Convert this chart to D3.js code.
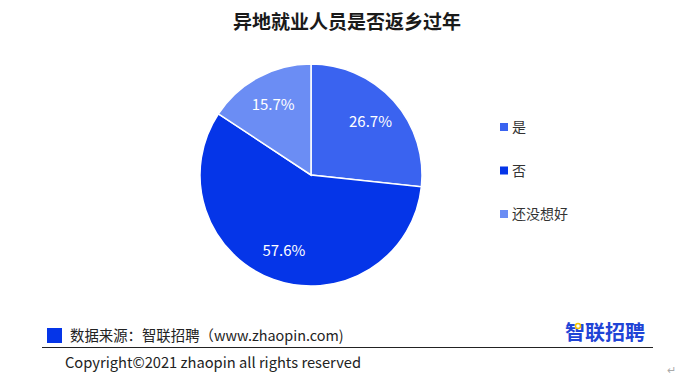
<!DOCTYPE html>
<html>
<head>
<meta charset="utf-8">
<script src="https://cdn.jsdelivr.net/npm/d3@7"></script>
<style>
  body { margin: 0; background: #fff; }
  svg { font-family: "Noto Sans CJK SC", "Noto Sans", sans-serif; }
</style>
</head>
<body>
<div id="chart"></div>
<script>
// chart data
var categories = ["是", "否", "还没想好"];
var shares = [26.7, 57.6, 15.7];
var colors = ["#3a63f0", "#0535e8", "#6b8df4"];

var width = 700, height = 384;

var svg = d3.select("#chart").append("svg")
  .attr("width", width)
  .attr("height", height);

// title
svg.append("text")
  .attr("x", 347)
  .attr("y", 29)
  .attr("text-anchor", "middle")
  .style("font-size", "19px")
  .style("font-weight", "bold")
  .style("fill", "#1a1a1a")
  .text("异地就业人员是否返乡过年");

// pie
var radius = 111;
var g = svg.append("g").attr("transform", "translate(311,175)");

var pie = d3.pie().sort(null).value(function(d) { return d; });
var arc = d3.arc().innerRadius(0).outerRadius(radius);
var labelArc = d3.arc().innerRadius(80).outerRadius(80);
var color = d3.scaleOrdinal().domain(categories).range(colors);

var slices = pie(shares);

g.selectAll("path")
  .data(slices)
  .enter().append("path")
  .attr("d", arc)
  .style("fill", function(d, i) { return color(categories[i]); })
  .style("stroke", "#fff")
  .style("stroke-width", 1.5);

g.selectAll("text")
  .data(slices)
  .enter().append("text")
  .attr("transform", function(d) { return "translate(" + labelArc.centroid(d) + ")"; })
  .attr("text-anchor", "middle")
  .attr("dy", "0.35em")
  .style("font-size", "15px")
  .style("fill", "#fff")
  .text(function(d) { return d.data.toFixed(1) + "%"; });

// legend
var legendY = d3.scalePoint().domain(categories).range([127, 214]);

var legend = svg.append("g").selectAll("g")
  .data(categories)
  .enter().append("g")
  .attr("transform", function(d) { return "translate(500," + legendY(d) + ")"; });

legend.append("rect")
  .attr("x", 0)
  .attr("y", -4)
  .attr("width", 8)
  .attr("height", 8)
  .style("fill", function(d) { return color(d); });

legend.append("text")
  .attr("x", 12)
  .attr("dy", "0.36em")
  .style("font-size", "14px")
  .style("fill", "#333")
  .text(function(d) { return d; });

// footer
svg.append("rect")
  .attr("x", 47).attr("y", 328)
  .attr("width", 15).attr("height", 15)
  .style("fill", "#0535e8");

svg.append("text")
  .attr("x", 70)
  .attr("y", 341)
  .style("font-size", "14.4px")
  .style("fill", "#222")
  .text("数据来源：智联招聘（www.zhaopin.com)");

svg.append("line")
  .attr("x1", 42).attr("x2", 653)
  .attr("y1", 347.5).attr("y2", 347.5)
  .style("stroke", "#222")
  .style("stroke-width", 1);

svg.append("text")
  .attr("x", 565)
  .attr("y", 340)
  .style("font-size", "20px")
  .style("font-weight", "bold")
  .style("fill", "#1f44d6")
  .text("智联招聘");

svg.append("circle")
  .attr("cx", 578).attr("cy", 326)
  .attr("r", 2.5)
  .style("fill", "#fff")
  .style("stroke", "#f5c400")
  .style("stroke-width", 1.5);

svg.append("text")
  .attr("x", 65)
  .attr("y", 368)
  .style("font-size", "14.7px")
  .style("fill", "#222")
  .text("Copyright©2021 zhaopin all rights reserved");

svg.append("text")
  .attr("x", 667)
  .attr("y", 374)
  .style("font-size", "11px")
  .style("fill", "#aaa")
  .text("↵");
</script>
</body>
</html>
